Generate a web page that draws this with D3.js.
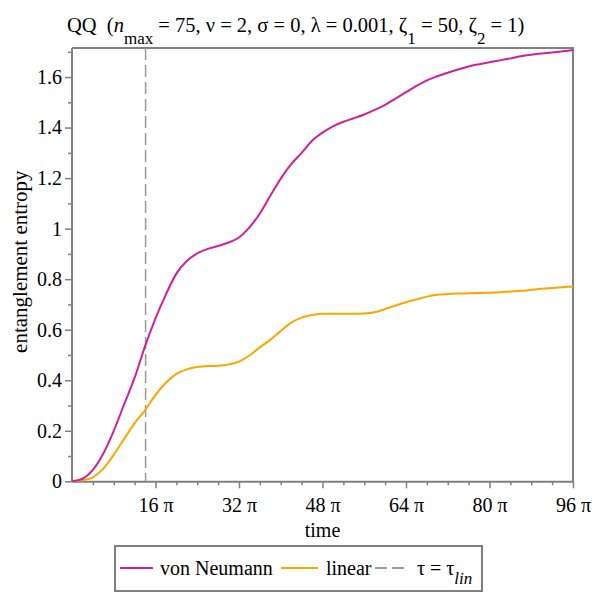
<!DOCTYPE html>
<html>
<head>
<meta charset="utf-8">
<script src="https://cdn.jsdelivr.net/npm/d3@7"></script>
<style>
  body { margin: 0; background: #fff; }
</style>
</head>
<body>
<svg id="chart"></svg>
<script>
// time in units of pi
const timePi = [0, 2, 4, 6, 8, 10, 12, 14, 16, 18, 20, 22, 24, 26, 28, 30, 32, 34, 36, 38, 40,
    42, 44, 46, 48, 50, 52, 54, 56, 58, 60, 62, 64, 66, 68, 70, 72, 74, 76, 78, 80,
    82, 84, 86, 88, 90, 92, 94, 96];

const vonNeumann = [0, 0.01, 0.045, 0.11, 0.2, 0.305, 0.41, 0.535, 0.645, 0.74, 0.822,
    0.872, 0.902, 0.92, 0.931, 0.945, 0.965, 1.005, 1.06, 1.13, 1.198,
    1.255, 1.3, 1.348, 1.38, 1.405, 1.423, 1.437, 1.452, 1.47, 1.49,
    1.515, 1.54, 1.565, 1.587, 1.603, 1.617, 1.63, 1.642, 1.651, 1.659,
    1.666, 1.674, 1.682, 1.688, 1.693, 1.697, 1.702, 1.707];

const linearEntropy = [0, 0.004, 0.016, 0.05, 0.105, 0.168, 0.23, 0.282, 0.342, 0.39, 0.425,
    0.443, 0.452, 0.456, 0.457, 0.462, 0.474, 0.498, 0.53, 0.56, 0.595,
    0.628, 0.648, 0.658, 0.663, 0.663, 0.663, 0.663, 0.664, 0.669, 0.682,
    0.696, 0.709, 0.72, 0.731, 0.738, 0.741, 0.743, 0.744, 0.745, 0.746,
    0.748, 0.751, 0.754, 0.758, 0.762, 0.765, 0.768, 0.771];

const tauLin = 14.1;

const xMajorTicks = [16, 32, 48, 64, 80, 96];
const yMajorTicks = [0, 0.2, 0.4, 0.6, 0.8, 1, 1.2, 1.4, 1.6];

const width = 600, height = 600;
const serif = "Liberation Serif";
const axisColor = "#808080";
const vnColor = "#d3209a";
const linColor = "#ffa500";
const tauColor = "#999999";

const svg = d3.select("#chart")
    .attr("width", width)
    .attr("height", height);

const x = d3.scaleLinear().domain([0, 96]).range([72, 573]);
const y = d3.scaleLinear().domain([0, 1.715]).range([481.3, 48]);

// frame (top and right)
svg.append("path")
    .attr("d", `M${x(0)},${y(1.715)}H${x(96)}V${y(0)}`)
    .attr("fill", "none")
    .attr("stroke", axisColor)
    .attr("stroke-width", 2);

// minor ticks
const xMinor = d3.range(4, 96, 4).filter(d => d % 16 !== 0);
const yMinor = d3.range(1, 18).map(d => d / 10).filter(d => Math.round(d * 10) % 2 !== 0);

svg.append("g")
    .attr("transform", `translate(0,${y(0)})`)
    .call(d3.axisBottom(x).tickValues(xMinor).tickFormat("").tickSize(4).tickSizeOuter(0))
    .call(g => g.select(".domain").remove())
    .call(g => g.selectAll("line").attr("stroke", axisColor).attr("stroke-width", 1.5));

svg.append("g")
    .attr("transform", `translate(${x(0)},0)`)
    .call(d3.axisLeft(y).tickValues(yMinor).tickFormat("").tickSize(4).tickSizeOuter(0))
    .call(g => g.select(".domain").remove())
    .call(g => g.selectAll("line").attr("stroke", axisColor).attr("stroke-width", 1.5));

// major axes
const xAxis = svg.append("g")
    .attr("transform", `translate(0,${y(0)})`)
    .call(d3.axisBottom(x).tickValues(xMajorTicks).tickFormat(d => `${d} π`).tickSize(7).tickSizeOuter(0).tickPadding(10));

const yAxis = svg.append("g")
    .attr("transform", `translate(${x(0)},0)`)
    .call(d3.axisLeft(y).tickValues(yMajorTicks).tickFormat(d3.format("~g")).tickSize(7).tickSizeOuter(0).tickPadding(3));

[xAxis, yAxis].forEach(g => {
    g.attr("font-size", 20);
    g.select(".domain").attr("stroke", axisColor).attr("stroke-width", 2);
    g.selectAll("line").attr("stroke", axisColor).attr("stroke-width", 1.5);
    g.selectAll("text").attr("fill", "#000");
});

// y axis reaches the frame top
yAxis.select(".domain").attr("d", `M0,${y(1.715)}V${y(0)}`);

// tau = tau_lin marker
svg.append("line")
    .attr("x1", x(tauLin)).attr("x2", x(tauLin))
    .attr("y1", y(1.715)).attr("y2", y(0))
    .attr("stroke", tauColor)
    .attr("stroke-width", 1.5)
    .attr("stroke-dasharray", "12,5");

// curves
const line = d3.line()
    .x((d, i) => x(timePi[i]))
    .y(d => y(d))
    .curve(d3.curveMonotoneX);

svg.append("path")
    .datum(linearEntropy)
    .attr("d", line)
    .attr("fill", "none")
    .attr("stroke", linColor)
    .attr("stroke-width", 2);

svg.append("path")
    .datum(vonNeumann)
    .attr("d", line)
    .attr("fill", "none")
    .attr("stroke", vnColor)
    .attr("stroke-width", 2);

// title
const title = svg.append("text")
    .attr("x", 67)
    .attr("y", 32)
    .attr("font-size", 20.5);
title.append("tspan").text("QQ\u00a0\u00a0(");
title.append("tspan").attr("font-style", "italic").text("n");
title.append("tspan").attr("dy", 12).attr("font-size", 17).text("max");
title.append("tspan").attr("dy", -12).text(" = 75, ν = 2, σ = 0, λ = 0.001, ζ");
title.append("tspan").attr("dy", 12).attr("font-size", 17).text("1");
title.append("tspan").attr("dy", -12).text(" = 50, ζ");
title.append("tspan").attr("dy", 12).attr("font-size", 17).text("2");
title.append("tspan").attr("dy", -12).text(" = 1)");

// axis labels
svg.append("text")
    .attr("x", (x(0) + x(96)) / 2)
    .attr("y", 537)
    .attr("text-anchor", "middle")
    .attr("font-size", 20)
    .text("time");

svg.append("text")
    .attr("transform", `translate(27,${(y(0) + y(1.715)) / 2 - 3}) rotate(-90)`)
    .attr("text-anchor", "middle")
    .attr("font-size", 21)
    .text("entanglement entropy");

// legend
const legend = svg.append("g");
legend.append("rect")
    .attr("x", 115).attr("y", 546)
    .attr("width", 367).attr("height", 45)
    .attr("fill", "#fff")
    .attr("stroke", axisColor)
    .attr("stroke-width", 2);

const legendItems = [
    { label: "von Neumann", color: vnColor, dash: null, x0: 120, len: 33, tx: 160 },
    { label: "linear", color: linColor, dash: null, x0: 281, len: 37, tx: 326 },
    { label: "τ = τ", color: tauColor, dash: "12,5", x0: 375, len: 29, tx: 417 }
];

legendItems.forEach(d => {
    legend.append("line")
        .attr("x1", d.x0).attr("x2", d.x0 + d.len)
        .attr("y1", 568).attr("y2", 568)
        .attr("stroke", d.color)
        .attr("stroke-width", 2)
        .attr("stroke-dasharray", d.dash);
    const t = legend.append("text")
        .attr("x", d.tx)
        .attr("y", 575)
        .attr("font-size", 20)
        .text(d.label);
    if (d.dash) {
        t.append("tspan")
            .attr("dy", 9)
            .attr("font-style", "italic")
            .attr("font-size", 17)
            .text("lin");
    }
});

// serif font on every text, set directly
svg.selectAll("text").attr("font-family", serif);
</script>
</body>
</html>
